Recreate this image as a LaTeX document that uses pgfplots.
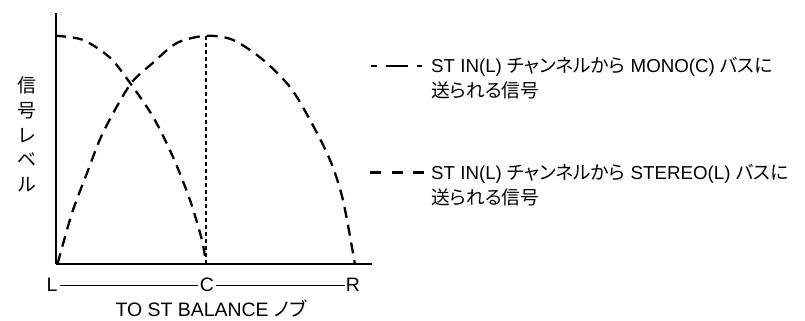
\documentclass[border=0pt]{standalone}
\usepackage{fontspec}
\setmainfont{Liberation Sans}
\newfontfamily\jp[RawFeature=+palt]{Noto Sans CJK JP}
\usepackage{pgfplots}
\pgfplotsset{compat=1.18}

\begin{document}
\begin{tikzpicture}[x=1bp,y=1bp]
\path[use as bounding box] (0,0) rectangle (805,320);
\begin{axis}[
    at={(56bp,56bp)}, anchor=south west,
    scale only axis, width=316bp, height=251bp,
    xmin=0, xmax=2.107, ymin=0, ymax=1.10,
    axis x line=bottom, axis y line=left,
    axis line style={line width=2.4bp, -},
    xtick=\empty, ytick=\empty,
    clip=false,
  ]
  % ST IN(L) -> STEREO(L)
  \addplot[line width=2.3bp, dash pattern=on 10bp off 7bp, smooth, tension=0.5]
    coordinates {
      (0,1) (0.18,0.982) (0.36,0.904) (0.493,0.794) (0.647,0.645)
      (0.78,0.469) (0.893,0.281) (0.973,0.105) (1.0,0)
    };
  % ST IN(L) -> MONO(C)
  \addplot[line width=2.3bp, dash pattern=on 11bp off 7bp, smooth, tension=0.5]
    coordinates {
      (0.01,0) (0.107,0.224) (0.207,0.399) (0.313,0.575) (0.493,0.785)
      (0.647,0.882) (0.807,0.969) (1,1) (1.18,0.982) (1.38,0.895)
      (1.56,0.776) (1.693,0.632) (1.827,0.456) (1.913,0.281) (1.993,0)
    };
  \addplot[line width=2.5bp, dash pattern=on 4bp off 3bp]
    coordinates {(1,0) (1,1)};
\end{axis}

% y label
\node[align=center, font=\jp\fontsize{19}{24.7}\selectfont] at (27,185.5)
  {信\\号\\レ\\ベ\\ル};

% L - C - R
\begin{scope}[font=\fontsize{19.5}{22}\selectfont]
  \node[inner sep=0] at (52,35) {L};
  \node[inner sep=0] at (207,35) {C};
  \node[inner sep=0] at (353,35) {R};
  \draw[line width=1bp] (60,35) -- (198,35) (216,35) -- (345,35);
  \node[anchor=base, inner sep=0] at (211,3.5) {TO ST BALANCE {\jp ノブ}};
\end{scope}

% legend
\begin{scope}[line width=2.3bp]
  \draw (371,254) -- (377,254) (386,254) -- (408,254) (417,254) -- (422,254);
  \draw (370,147.5) -- (381,147.5) (392,147.5) -- (403,147.5) (413,147.5) -- (424,147.5);
\end{scope}
\begin{scope}[font=\fontsize{18.8}{22}\selectfont]
  \node[anchor=base west, inner sep=0] at (431,247.5)
    {ST IN(L) {\jp チャンネルから} MONO(C) {\jp バスに}};
  \node[anchor=base west, inner sep=0] at (431,222.5) {\jp 送られる信号};
  \node[anchor=base west, inner sep=0] at (431,141)
    {ST IN(L) {\jp チャンネルから} STEREO(L) {\jp バスに}};
  \node[anchor=base west, inner sep=0] at (431,116) {\jp 送られる信号};
\end{scope}
\end{tikzpicture}
\end{document}
